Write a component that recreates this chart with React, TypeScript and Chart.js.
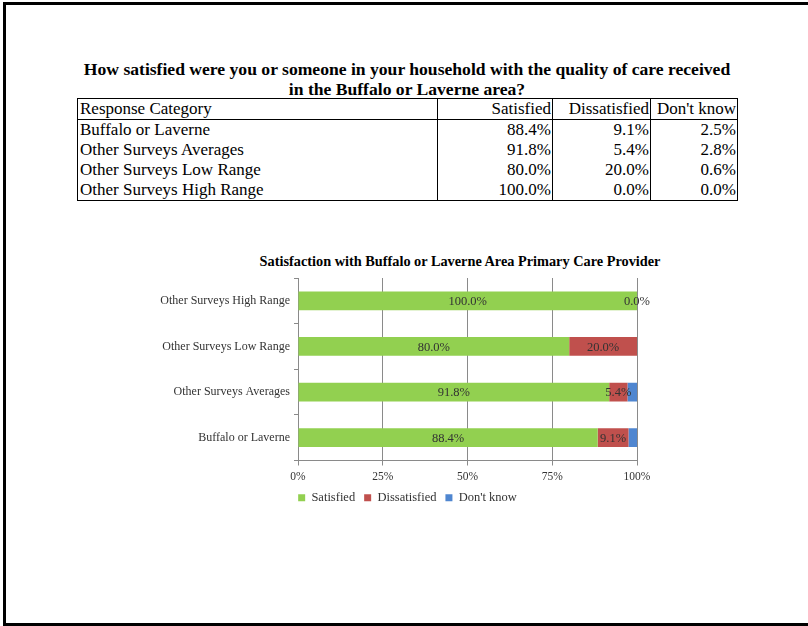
import React, { useEffect, useRef } from "react";
import { Chart, registerables } from "chart.js";

Chart.register(...registerables);

const categories = [
  "Buffalo or Laverne",
  "Other Surveys Averages",
  "Other Surveys Low Range",
  "Other Surveys High Range",
];
const seriesNames = ["Satisfied", "Dissatisfied", "Don't know"];
const satisfied = [88.4, 91.8, 80.0, 100.0];
const dissatisfied = [9.1, 5.4, 20.0, 0.0];
const dontKnow = [2.5, 2.8, 0.6, 0.0];
const seriesColors = ["#92D050", "#C0504D", "#4F86D0"];
const xTicks = [0, 25, 50, 75, 100];

const docTitle1 =
  "How satisfied were you or someone in your household with the quality of care received";
const docTitle2 = "in the Buffalo or Laverne area?";
const tableHeader = ["Response Category", "Satisfied", "Dissatisfied", "Don't know"];
const chartTitle = "Satisfaction with Buffalo or Laverne Area Primary Care Provider";

const SERIF = "'Liberation Serif', 'Times New Roman', serif";

const labelPlugin = {
  id: "segLabels",
  afterDatasetsDraw(chart: any) {
    const ctx = chart.ctx;
    ctx.save();
    ctx.font = "12.5px " + SERIF;
    ctx.fillStyle = "#333333";
    ctx.textAlign = "center";
    ctx.textBaseline = "middle";
    [0, 1].forEach((di) => {
      const meta = chart.getDatasetMeta(di);
      const data = chart.data.datasets[di].data as number[];
      meta.data.forEach((bar: any, i: number) => {
        const cx = (bar.x + bar.base) / 2;
        ctx.fillText(data[i].toFixed(1) + "%", cx, bar.y + 1);
      });
    });
    ctx.restore();
  },
};

function BarChart() {
  const ref = useRef<HTMLCanvasElement | null>(null);
  useEffect(() => {
    if (!ref.current) return;
    const grey = "#8a8a8a";
    const chart = new Chart(ref.current, {
      type: "bar",
      data: {
        labels: categories,
        datasets: [satisfied, dissatisfied, dontKnow].map((d, i) => ({
          label: seriesNames[i],
          data: d,
          backgroundColor: seriesColors[i],
          borderWidth: 0,
          categoryPercentage: 1,
          barPercentage: 0.41,
        })),
      },
      options: {
        indexAxis: "y",
        responsive: false,
        animation: false,
        layout: { padding: { left: 157, right: 150, top: 38, bottom: 6 } },
        scales: {
          x: {
            stacked: true,
            min: 0,
            max: 100,
            afterBuildTicks: (scale: any) => {
              scale.ticks = xTicks.map((v) => ({ value: v }));
            },
            afterFit: (scale: any) => {
              scale.height = 22;
              scale.paddingLeft = 0;
              scale.paddingRight = 0;
            },
            grid: { color: grey, tickLength: 5, lineWidth: 1 },
            border: { color: grey },
            ticks: {
              padding: 5,
              color: "#333333",
              font: { family: SERIF, size: 11.5 },
              callback: (v: any) => v + "%",
            },
          },
          y: {
            stacked: true,
            reverse: true,
            afterFit: (scale: any) => {
              scale.width = 141;
              scale.paddingTop = 0;
              scale.paddingBottom = 0;
            },
            grid: { drawOnChartArea: false, color: grey, tickLength: 4, offset: true },
            border: { color: grey },
            ticks: {
              padding: 4,
              color: "#333333",
              font: { family: SERIF, size: 12 },
            },
          },
          // empty right-hand gutter so the legend centres under the whole chart block
          gutter: {
            type: "linear",
            position: "right",
            display: true,
            grid: { display: false, drawTicks: false },
            border: { display: false },
            ticks: { display: false },
            afterFit: (scale: any) => {
              scale.width = 21;
              scale.paddingTop = 0;
              scale.paddingBottom = 0;
            },
          },
        },
        plugins: {
          title: { display: false },
          tooltip: { enabled: false },
          legend: {
            position: "bottom",
            labels: {
              boxWidth: 7,
              boxHeight: 7,
              padding: 9,
              color: "#333333",
              font: { family: SERIF, size: 12.5 },
            },
          },
        },
      },
      plugins: [labelPlugin],
    });
    return () => chart.destroy();
  }, []);
  return (
    <canvas
      ref={ref}
      width={808}
      height={280}
      style={{ position: "absolute", left: 0, top: 240, width: 808, height: 280 }}
    />
  );
}

const rows = categories.map((c, i) => [
  c,
  satisfied[i].toFixed(1) + "%",
  dissatisfied[i].toFixed(1) + "%",
  dontKnow[i].toFixed(1) + "%",
]);
const colWidths = [360, 115, 98, 87];

export default function App() {
  const cell = (j: number, extra: React.CSSProperties = {}): React.CSSProperties => ({
    width: colWidths[j],
    padding: j === 0 ? "0 0 0 2px" : "0 1px 0 0",
    textAlign: j === 0 ? "left" : "right",
    borderLeft: j === 0 ? "none" : "1px solid #000",
    height: 20,
    lineHeight: "20px",
    whiteSpace: "nowrap",
    boxSizing: "border-box",
    ...extra,
  });
  return (
    <div
      style={{
        position: "absolute",
        left: 0,
        top: 0,
        width: 808,
        height: 626,
        background: "#fff",
        overflow: "hidden",
        fontFamily: SERIF,
      }}
    >
      <div
        style={{
          position: "absolute",
          left: 3,
          top: 2,
          width: 900,
          height: 618,
          border: "3px solid #000",
        }}
      />
      <div
        style={{
          position: "absolute",
          left: 0,
          width: 814,
          top: 59,
          textAlign: "center",
          fontWeight: "bold",
          fontSize: 17.6,
          lineHeight: "20px",
          color: "#000",
          whiteSpace: "nowrap",
        }}
      >
        {docTitle1}
        <br />
        {docTitle2}
      </div>
      <table
        style={{
          position: "absolute",
          left: 77,
          top: 98,
          width: 661,
          borderCollapse: "collapse",
          border: "1px solid #000",
          fontSize: 17,
          color: "#000",
          tableLayout: "fixed",
        }}
      >
        <tbody>
          <tr style={{ borderBottom: "1px solid #000" }}>
            {tableHeader.map((h, j) => (
              <td key={j} style={cell(j)}>
                {h}
              </td>
            ))}
          </tr>
          {rows.map((r, i) => (
            <tr key={i}>
              {r.map((v, j) => (
                <td key={j} style={cell(j)}>
                  {v}
                </td>
              ))}
            </tr>
          ))}
        </tbody>
      </table>
      <div
        style={{
          position: "absolute",
          left: 160,
          width: 600,
          top: 253,
          textAlign: "center",
          fontWeight: "bold",
          fontSize: 14.3,
          lineHeight: "16px",
          whiteSpace: "nowrap",
          color: "#000",
        }}
      >
        {chartTitle}
      </div>
      <BarChart />
    </div>
  );
}
